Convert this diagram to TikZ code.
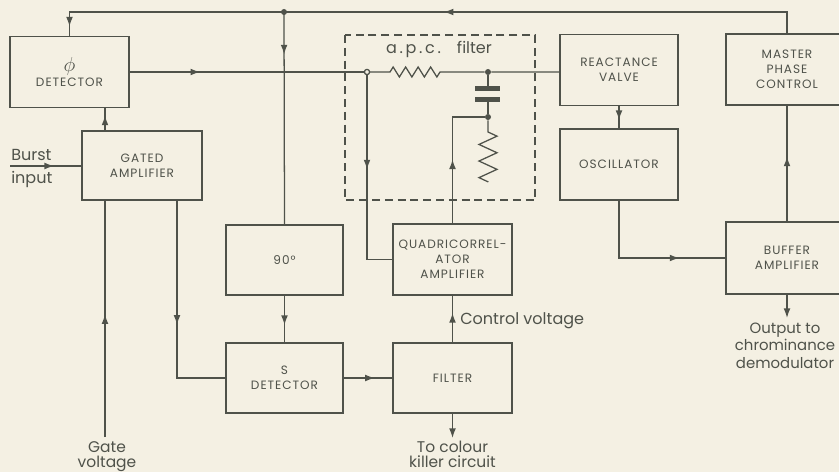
\documentclass[tikz,border=0pt]{standalone}
\usepackage{fontspec}
\setmainfont{Poppins}
\newfontfamily\boxfont{Poppins}[LetterSpace=8]
\usepackage{tikz}
\usetikzlibrary{arrows.meta, decorations.markings, decorations.pathmorphing, calc}
\definecolor{ink}{HTML}{4F524A}
\definecolor{paper}{HTML}{F4F0E3}
\tikzset{
    blk/.style 2 args={draw=ink, line width=1.4pt, minimum width=#1*0.025cm, minimum height=#2*0.025cm,
        inner sep=0pt, align=center, text=ink, font=\boxfont\fontsize{8.6}{10.7}\selectfont},
    lbl/.style={align=center, inner sep=0pt, text=ink, font=\fontsize{11.4}{12.4}\selectfont},
    wire/.style={draw=ink, line width=0.9pt},
    tipat/.style={postaction={decorate, decoration={markings,
        mark=at position #1 with {\arrow{Latex[length=2.4mm, width=1.7mm]}}}}},
    jdot/.style={circle, fill=ink, inner sep=0pt, minimum size=0.15cm},
    ojdot/.style={circle, draw=ink, fill=paper, line width=0.9pt, inner sep=0pt, minimum size=0.13cm},
    resh/.style={decoration={zigzag, segment length=12.5*0.025cm, amplitude=5*0.025cm}},
    resv/.style={decoration={zigzag, segment length=16.6*0.025cm, amplitude=9*0.025cm}},
}

\begin{document}
\begin{tikzpicture}[x=0.025cm, y=-0.025cm]
    \clip (0,0) rectangle (839,472);
    \fill[paper] (0,0) rectangle (839,472);

    % blocks
    \node[blk={119}{71}] (phidet) at (69.5,72) {{\fontsize{14}{12}\selectfont\(\phi\)}\\DETECTOR};
    \node[blk={120}{69}] (gated) at (142,165.5) {GATED\\AMPLIFIER};
    \node[blk={117}{70}] (ninety) at (284.5,260) {90°};
    \node[blk={117}{70}] (sdet) at (284.5,378) {S\\DETECTOR};
    \node[blk={119}{70}] (filt) at (452.5,378) {FILTER};
    \node[blk={119}{71}] (quad) at (452.5,259.5) {QUADRICORREL-\\ATOR\\AMPLIFIER};
    \node[blk={118}{71}] (react) at (619,70) {REACTANCE\\VALVE};
    \node[blk={118}{71}] (osc) at (619,164.5) {OSCILLATOR};
    \node[blk={122}{71}] (master) at (787,69.5) {MASTER\\PHASE\\CONTROL};
    \node[blk={122}{72}] (buffer) at (787,258) {BUFFER\\AMPLIFIER};

    \coordinate (jtop) at (284,12);
    \coordinate (mtop) at (787,12);
    \coordinate (ptop) at (69.5,12);
    \coordinate (burst) at (10,166);
    \coordinate (gatev) at (105,437);
    \coordinate (gout) at (177,378);
    \coordinate (killer) at (452.5,438);
    \coordinate (chroma) at (787,318);
    \node[ojdot] (oc) at (367,72) {};
    \node[jdot] (cdot) at (488,72) {};
    \node[jdot] (rdot) at (488,117) {};
    \node[jdot] (jtdot) at (jtop) {};

    % a.p.c. filter
    \draw[ink, line width=0.9pt, dash pattern=on 0.2cm off 0.12cm] (345,35) rectangle (535,200);
    \node[lbl] (apc) at (439,49) {a\,.\,p\,.\,c\,.\hspace{1em}filter};
    \draw[wire] (oc) -- (390,72) decorate[resh] {-- (440,72)} -- (cdot) -- (react.west |- cdot);
    \draw[wire] (cdot) -- (488,86);
    \fill[ink] (475,86) rectangle (500,91);
    \fill[ink] (475,97) rectangle (500,102);
    \draw[wire] (488,102) -- (rdot);
    \draw[wire] (rdot) -- (488,132) decorate[resv] {-- (488,182)};

    % feedback along the top
    \draw[wire, tipat=0.695] (master.north) -- (mtop) -- (jtop);
    \draw[wire, tipat=0.962] (jtop) -- (ptop) -- (phidet.north);
    \draw[wire, tipat=0.2] (jtop) -- (ninety.north);

    \draw[wire, tipat=0.3] (phidet.east) -- (oc);
    \draw[wire, tipat=0.46] (quad.north) |- (rdot);
    \draw[wire, tipat=0.45] (oc) |- (quad.west);
    \draw[wire, tipat=0.63] (react.south) -- (osc.north);
    \draw[wire, tipat=0.72] (osc.south) |- (buffer.west);
    \draw[wire, tipat=0.56] (buffer.north) -- (master.south);
    \draw[wire, -{Latex[length=2.4mm, width=1.7mm]}] (buffer.south) -- (chroma);
    \node[lbl, anchor=north, font=\fontsize{10.6}{12.2}\selectfont] (outtxt) at (785,323) {Output to\\chrominance\\demodulator};

    \draw[wire, tipat=0.67] (gated.north -| gatev) -- (phidet.south -| gatev);
    \draw[wire, tipat=0.62] (burst) -- (gated.west |- burst);
    \node[lbl, anchor=south west] (bursttxt) at (11,161) {Burst};
    \node[lbl, anchor=north west] (inputtxt) at (11,171) {input};
    \draw[wire, tipat=0.52] (gatev) -- (gated.south -| gatev);
    \node[lbl, anchor=north, font=\fontsize{11}{10.6}\selectfont] (gatetxt) at (107,441) {Gate\\voltage};

    \draw[wire, tipat=0.55] (gated.south -| gout) |- (sdet.west);
    \draw[wire, tipat=0.63] (ninety.south) -- (sdet.north);
    \draw[wire, tipat=0.64] (sdet.east) -- (filt.west);
    \draw[wire, tipat=0.63] (filt.north) -- (quad.south);
    \node[lbl, anchor=west] (ctltxt) at (460,321) {Control voltage};
    \draw[wire, -{Latex[length=2.4mm, width=1.7mm]}] (filt.south) -- (killer);
    \node[lbl, anchor=north, font=\fontsize{11}{10.6}\selectfont] (killtxt) at (452.5,441) {To colour\\killer circuit};
\end{tikzpicture}
\end{document}
